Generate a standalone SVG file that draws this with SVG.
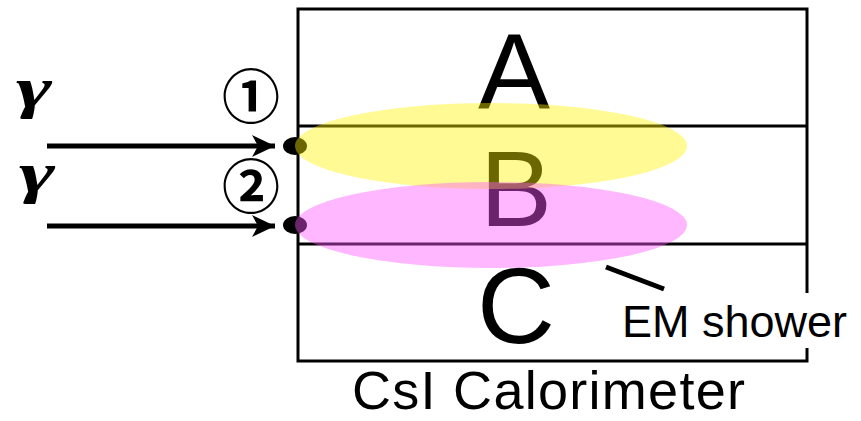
<svg xmlns="http://www.w3.org/2000/svg" width="861" height="421" viewBox="0 0 861 421">
<style>
.ln{stroke:#000;stroke-width:3;fill:none}
.big{font-family:"Liberation Sans",Arial,sans-serif;font-size:108px;text-anchor:middle;fill:#000}
.lbl{font-family:"Liberation Sans",Arial,sans-serif;fill:#000}
.g{font-family:"Liberation Serif","DejaVu Serif",serif;font-style:italic;font-weight:bold;font-size:58px;fill:#000}
.num{font-family:"Noto Sans CJK JP","Noto Sans CJK SC",sans-serif;font-weight:bold;font-size:58px;text-anchor:middle;fill:#000}
.arr{stroke:#000;stroke-width:5;fill:none}
</style>
<defs>
<marker id="ah" markerWidth="24" markerHeight="24" refX="23" refY="12" orient="auto" markerUnits="userSpaceOnUse">
<path d="M0,1 L23,12 L0,23 L6,12 Z" fill="#000"/>
</marker>
</defs>
<rect width="861" height="421" fill="#fff"/>
<g id="calorimeter">
<rect x="298" y="9" width="509" height="352" class="ln"/>
<line x1="298" y1="126" x2="807" y2="126" class="ln"/>
<line x1="298" y1="244" x2="807" y2="244" class="ln"/>
<text x="514" y="109" class="big">A</text>
<text x="516" y="226" class="big">B</text>
<text x="516" y="343" class="big">C</text>
</g>
<g id="dots">
<ellipse cx="295" cy="146" rx="12" ry="9" fill="#000"/>
<ellipse cx="295" cy="225" rx="12" ry="9" fill="#000"/>
</g>
<g id="shower1">
<ellipse cx="491" cy="146" rx="196" ry="43" fill="#fff200" fill-opacity="0.42"/>
</g>
<g id="shower2">
<ellipse cx="491" cy="225" rx="196" ry="43" fill="#ff55ff" fill-opacity="0.42"/>
</g>
<g id="connectors">
<line x1="47" y1="146" x2="275" y2="146" class="arr" marker-end="url(#ah)"/>
<line x1="47" y1="226" x2="275" y2="226" class="arr" marker-end="url(#ah)"/>
<line x1="606" y1="267" x2="664" y2="289" class="arr" stroke-width="4"/>
</g>
<g id="gamma1"><text class="g" transform="translate(16,107) scale(1.5,1)">γ</text></g>
<g id="gamma2"><text class="g" transform="translate(19,192) scale(1.5,1)">γ</text></g>
<g id="n1"><text x="251" y="118" class="num">①</text></g>
<g id="n2"><text x="251" y="208" class="num">②</text></g>
<g id="em">
<rect x="616" y="293" width="240" height="55" fill="#fff"/>
<text x="622" y="337" class="lbl" font-size="45">EM shower</text>
</g>
<g id="title"><text x="352" y="409" class="lbl" font-size="54" textLength="393" lengthAdjust="spacing">CsI Calorimeter</text></g>
</svg>
